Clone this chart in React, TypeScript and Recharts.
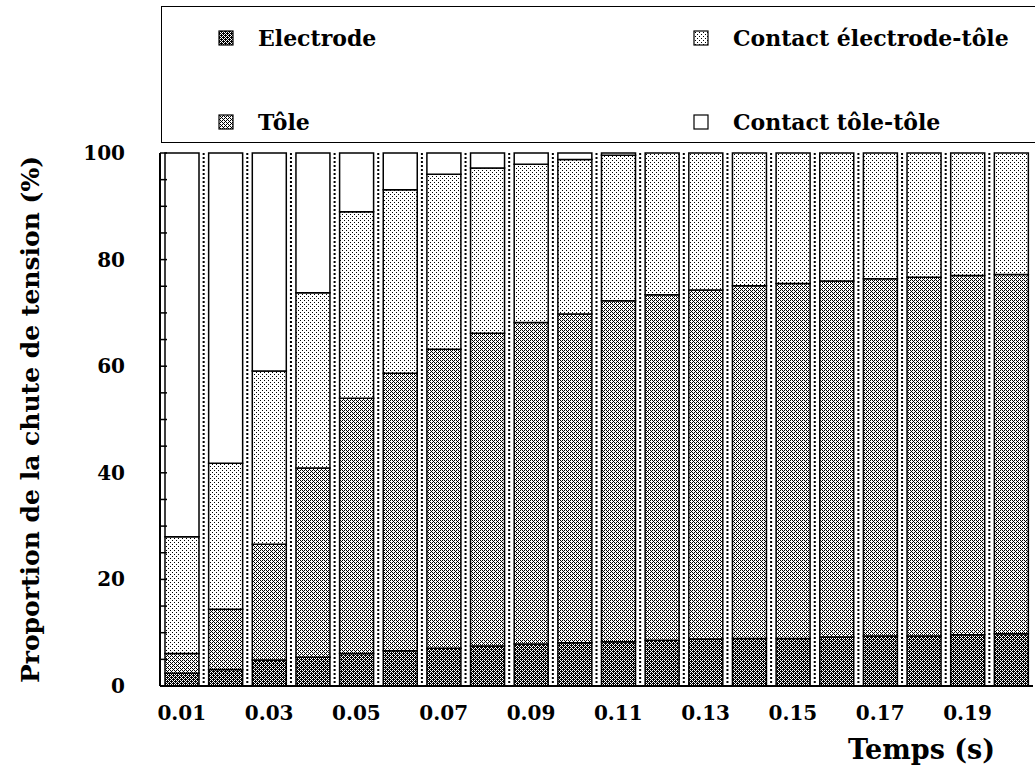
import { BarChart, Bar, XAxis, YAxis, Label } from "recharts";

const times = [
  "0.01", "0.02", "0.03", "0.04", "0.05", "0.06", "0.07", "0.08", "0.09", "0.10",
  "0.11", "0.12", "0.13", "0.14", "0.15", "0.16", "0.17", "0.18", "0.19", "0.20",
];
const electrode = [2.4, 3.1, 4.9, 5.4, 6.1, 6.6, 7.1, 7.5, 7.9, 8.1, 8.3, 8.6, 8.8, 8.9, 8.9, 9.2, 9.4, 9.4, 9.6, 9.8];
const tole = [3.7, 11.3, 21.7, 35.5, 47.9, 52.1, 56.1, 58.7, 60.3, 61.7, 64.0, 64.8, 65.5, 66.2, 66.6, 66.8, 67.0, 67.3, 67.4, 67.4];
const contactElectrodeTole = [21.9, 27.4, 32.5, 32.9, 35.0, 34.4, 32.8, 31.0, 29.7, 29.0, 27.3, 26.6, 25.7, 24.9, 24.5, 24.0, 23.6, 23.3, 23.0, 22.8];
const contactToleTole = [72.0, 58.2, 40.9, 26.2, 11.0, 6.9, 4.0, 2.8, 2.1, 1.2, 0.4, 0, 0, 0, 0, 0, 0, 0, 0, 0];
const yTicks = [0, 5, 10, 15, 20, 25, 30, 35, 40, 45, 50, 55, 60, 65, 70, 75, 80, 85, 90, 95, 100];
const yLabelTicks = [0, 20, 40, 60, 80, 100];

const data = times.map((t, i) => ({
  t,
  electrode: electrode[i],
  tole: tole[i],
  cet: contactElectrodeTole[i],
  ctt: contactToleTole[i],
}));

const FONT = "'DejaVu Serif', serif";

const legendItems = [
  { label: "Electrode", fill: "url(#pElectrode)" },
  { label: "Contact électrode-tôle", fill: "url(#pLight)" },
  { label: "Tôle", fill: "url(#pTole)" },
  { label: "Contact tôle-tôle", fill: "#fff" },
];

// dotted strip drawn in the gap left of each bar
function Separator(props: any) {
  const { x, y, height } = props;
  const sx = x - 5;
  return (
    <g>
      <line x1={sx} x2={sx} y1={y} y2={y + height} stroke="#000" strokeWidth={2} strokeDasharray="2 2" />
    </g>
  );
}

function YTick(props: any) {
  const { x, y, payload } = props;
  if (!yLabelTicks.includes(payload.value)) return <g />;
  return (
    <text x={x} y={y} textAnchor="end" dominantBaseline="central" fontFamily={FONT} fontWeight="bold" fontSize={20} fill="#000">
      {payload.value}
    </text>
  );
}

function PatternDefs() {
  return (
    <svg width={0} height={0} style={{ position: "absolute" }}>
      <defs>
        <pattern id="pElectrode" width={4} height={4} patternUnits="userSpaceOnUse">
          <rect width={4} height={4} fill="#000" />
          <rect x={0} y={0} width={1} height={1} fill="#fff" />
          <rect x={2} y={2} width={1} height={1} fill="#fff" />
          <rect x={0} y={2} width={1} height={1} fill="#fff" />
          <rect x={2} y={0} width={1} height={1} fill="#fff" />
          <rect x={1} y={1} width={1} height={1} fill="#fff" />
          <rect x={3} y={3} width={1} height={1} fill="#fff" />
        </pattern>
        <pattern id="pTole" width={4} height={4} patternUnits="userSpaceOnUse">
          <rect width={4} height={4} fill="#fff" />
          <rect x={0} y={0} width={1} height={1} fill="#000" />
          <rect x={1} y={1} width={1} height={1} fill="#000" />
          <rect x={2} y={2} width={1} height={1} fill="#000" />
          <rect x={3} y={3} width={1} height={1} fill="#000" />
          <rect x={0} y={2} width={1} height={1} fill="#000" />
          <rect x={2} y={0} width={1} height={1} fill="#000" />
        </pattern>
        <pattern id="pLight" width={4} height={4} patternUnits="userSpaceOnUse">
          <rect width={4} height={4} fill="#fff" />
          <rect x={0} y={0} width={1} height={1} fill="#000" />
          <rect x={2} y={2} width={1} height={1} fill="#000" />
        </pattern>
      </defs>
    </svg>
  );
}

export default function App() {
  return (
    <div style={{ position: "absolute", left: 0, top: 0, width: 1035, height: 767, background: "#fff", overflow: "hidden" }}>
      <PatternDefs />
      <div
        style={{
          position: "absolute",
          left: 161,
          top: 6,
          width: 900,
          height: 137,
          border: "1.5px solid #000",
          boxSizing: "border-box",
        }}
      >
        {legendItems.map((it, i) => {
          const col = i % 2;
          const row = Math.floor(i / 2);
          return (
            <div
              key={it.label}
              style={{
                position: "absolute",
                left: col === 0 ? 56 : 531,
                top: row === 0 ? 18 : 102,
                display: "flex",
                alignItems: "center",
                fontFamily: FONT,
                fontWeight: "bold",
                fontSize: 22,
                whiteSpace: "nowrap",
              }}
            >
              <svg width={16} height={16} style={{ marginRight: 24 }}>
                <rect x={1} y={1} width={14} height={14} fill={it.fill} stroke="#000" strokeWidth={1.2} />
              </svg>
              {it.label}
            </div>
          );
        })}
      </div>
      <div style={{ position: "absolute", left: 0, top: 0 }}>
        <BarChart width={1035} height={767} data={data} margin={{ top: 153, right: 2, bottom: 0, left: 0 }} barSize={34}>
          <XAxis
            dataKey="t"
            interval={1}
            height={81}
            tickLine={false}
            tickSize={0}
            tickMargin={20}
            axisLine={{ stroke: "#000", strokeWidth: 2 }}
            tick={{ fill: "#000", fontFamily: FONT, fontWeight: "bold", fontSize: 20 }}
          >
            <Label
              value="Temps (s)"
              position="insideBottomRight"
              offset={38}
              dy={30}
              style={{ fill: "#000", fontFamily: FONT, fontWeight: "bold", fontSize: 27 }}
            />
          </XAxis>
          <XAxis
            xAxisId="top"
            dataKey="t"
            orientation="top"
            height={0}
            interval={0}
            tick={false}
            tickSize={-7}
            tickLine={{ stroke: "#000", strokeWidth: 1.5 }}
            axisLine={{ stroke: "#000", strokeWidth: 2 }}
          />
          <YAxis
            domain={[0, 100]}
            ticks={yTicks}
            interval={0}
            width={160}
            tickSize={-7}
            tickMargin={42}
            tick={<YTick />}
            tickLine={{ stroke: "#000", strokeWidth: 1.5 }}
            axisLine={{ stroke: "#000", strokeWidth: 2 }}
          >
            <Label
              value="Proportion de la chute de tension (%)"
              angle={-90}
              position="insideLeft"
              offset={30}
              style={{ textAnchor: "middle", fill: "#000", fontFamily: FONT, fontWeight: "bold", fontSize: 25 }}
            />
          </YAxis>
          <YAxis
            yAxisId="right"
            orientation="right"
            domain={[0, 100]}
            ticks={yTicks}
            interval={0}
            width={0}
            tick={false}
            tickSize={-7}
            tickLine={{ stroke: "#000", strokeWidth: 1.5 }}
            axisLine={{ stroke: "#000", strokeWidth: 2 }}
          />
          <Bar dataKey="electrode" stackId="a" fill="url(#pElectrode)" stroke="#000" strokeWidth={1.5} background={<Separator />} isAnimationActive={false} />
          <Bar dataKey="tole" stackId="a" fill="url(#pTole)" stroke="#000" strokeWidth={1.5} isAnimationActive={false} />
          <Bar dataKey="cet" stackId="a" fill="url(#pLight)" stroke="#000" strokeWidth={1.5} isAnimationActive={false} />
          <Bar dataKey="ctt" stackId="a" fill="#fff" stroke="#000" strokeWidth={1.5} isAnimationActive={false} />
        </BarChart>
      </div>
    </div>
  );
}
